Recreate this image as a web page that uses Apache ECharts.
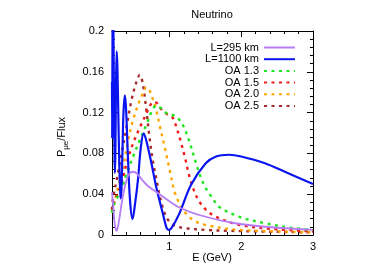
<!DOCTYPE html>
<html><head><meta charset="utf-8">
<script src="https://cdn.jsdelivr.net/npm/echarts@6/dist/echarts.min.js"></script>
<style>html,body{margin:0;padding:0;background:#fff}#c{width:385px;height:269px}</style>
</head><body><div id="c"></div>
<script>
var FONT = 'Liberation Sans, Arial, sans-serif';
var seriesNames = ['L=295 km', 'L=1100 km', 'OA 1.3', 'OA 1.5', 'OA 2.0', 'OA 2.5'];
var seriesColors = ['#b77cf5', '#0a14f0', '#1ee61e', '#ee1c1c', '#ffa500', '#a52a2a'];
var xTicks = [1, 2, 3];
var yTicks = [0, 0.04, 0.08, 0.12, 0.16, 0.2];

var L295 = [[0.2,0.042],[0.215,0.03],[0.235,0.013],[0.25,0.006],[0.265,0.004],[0.28,0.007],[0.30,0.015],[0.33,0.029],[0.36,0.041],[0.40,0.053],[0.44,0.060],[0.494,0.062],[0.55,0.060],[0.62,0.054],[0.70,0.048],[0.862,0.040],[1.0,0.033],[1.138,0.027],[1.414,0.0196],[1.873,0.012],[2.334,0.0081],[3.0,0.005]];
var L1100 = [[0.200,0.150],[0.2025,0.095],[0.206,0.17],[0.210,0.23],[0.214,0.24],[0.219,0.21],[0.228,0.13],[0.236,0.075],[0.241,0.061],[0.247,0.08],[0.255,0.14],[0.265,0.18],[0.275,0.165],[0.29,0.11],[0.305,0.06],[0.318,0.038],[0.324,0.036],[0.332,0.045],[0.345,0.08],[0.36,0.12],[0.379,0.137],[0.395,0.125],[0.42,0.08],[0.45,0.035],[0.486,0.0157],[0.52,0.03],[0.563,0.055],[0.60,0.085],[0.641,0.0997],[0.68,0.092],[0.75,0.07],[0.816,0.047],[0.908,0.021],[0.96,0.007],[0.99,0.005],[1.03,0.007],[1.138,0.021],[1.30,0.049],[1.506,0.0703],[1.65,0.077],[1.83,0.0787],[2.0,0.077],[2.33,0.0703],[2.655,0.0605],[3.0,0.05]];
var OA13 = [[0.2,0.022],[0.22,0.029],[0.33,0.045],[0.403,0.060],[0.494,0.077],[0.586,0.093],[0.678,0.108],[0.76,0.122],[0.816,0.127],[0.87,0.125],[0.95,0.12],[1.0,0.118],[1.07,0.117],[1.138,0.113],[1.2,0.106],[1.276,0.092],[1.368,0.071],[1.44,0.056],[1.506,0.046],[1.6,0.036],[1.69,0.0278],[1.966,0.018],[2.334,0.0115],[2.7,0.007],[3.0,0.005]];
var OA15 = [[0.2,0.023],[0.22,0.03],[0.33,0.05],[0.403,0.070],[0.494,0.09],[0.586,0.105],[0.678,0.119],[0.74,0.128],[0.78,0.1307],[0.83,0.129],[0.9,0.122],[0.954,0.119],[1.045,0.115],[1.10,0.105],[1.16,0.091],[1.22,0.075],[1.276,0.058],[1.34,0.044],[1.414,0.033],[1.52,0.024],[1.644,0.018],[1.97,0.010],[2.42,0.006],[3.0,0.0035]];
var OA20 = [[0.2,0.022],[0.22,0.028],[0.29,0.048],[0.356,0.067],[0.425,0.093],[0.494,0.113],[0.586,0.132],[0.64,0.14],[0.678,0.145],[0.72,0.142],[0.77,0.133],[0.816,0.1225],[0.862,0.108],[0.931,0.087],[1.0,0.065],[1.069,0.043],[1.138,0.031],[1.23,0.021],[1.35,0.014],[1.506,0.0098],[1.97,0.005],[3.0,0.0028]];
var OA25 = [[0.2,0.025],[0.21,0.034],[0.265,0.054],[0.334,0.080],[0.403,0.106],[0.471,0.132],[0.54,0.150],[0.586,0.157],[0.63,0.148],[0.678,0.1225],[0.724,0.095],[0.77,0.072],[0.82,0.054],[0.862,0.039],[0.93,0.022],[1.0,0.013],[1.1,0.0085],[1.23,0.0066],[1.5,0.005],[1.87,0.004],[3.0,0.0025]];
var seriesData = [L295, L1100, OA13, OA15, OA20, OA25];

var chart = echarts.init(document.getElementById('c'), null, {renderer: 'canvas'});
var xMin = 0.2, xMax = 3, yMin = 0, yMax = 0.2;
function xAx(pos, labels, major) {
  return {
    type: 'value', position: pos, min: xMin, max: xMax, interval: 0.2,
    axisLine: {show: !major, onZero: false, lineStyle: {color: '#000', width: 1}},
    axisTick: major ? {show: true, inside: true, length: 6, customValues: xTicks, lineStyle: {color: '#000'}}
                    : {show: true, inside: true, length: 3, lineStyle: {color: '#000'}},
    axisLabel: {show: labels, margin: 6, color: '#000', fontSize: 11, fontFamily: FONT,
      customValues: labels ? xTicks : undefined,
      formatter: function (v) { return Math.abs(v - Math.round(v)) < 1e-6 ? String(Math.round(v)) : ''; }},
    splitLine: {show: false}
  };
}
function yAx(pos, labels) {
  return {
    type: 'value', position: pos, min: yMin, max: yMax, interval: 0.04,
    axisLine: {show: true, onZero: false, lineStyle: {color: '#000', width: 1}},
    axisTick: {show: true, inside: true, length: 6, lineStyle: {color: '#000'}},
    minorTick: {show: true, splitNumber: 5, length: 3, lineStyle: {color: '#000'}},
    axisLabel: {show: labels, margin: 8, color: '#000', fontSize: 11, fontFamily: FONT,
      formatter: function (v) { return String(+v.toFixed(2)); }},
    splitLine: {show: false}, minorSplitLine: {show: false}
  };
}
var series = seriesNames.map(function (n, i) {
  var dashed = i >= 2;
  return {
    name: n, type: 'line', data: seriesData[i], xAxisIndex: 0, yAxisIndex: 0,
    smooth: 0.35, symbol: 'none', showSymbol: false, clip: true, z: 10 - i,
    lineStyle: {color: seriesColors[i], width: dashed ? 2.4 : (i === 1 ? 2.2 : 1.8), type: dashed ? [3, 4.5] : 'solid'},
    itemStyle: {color: seriesColors[i]}
  };
});
chart.setOption({
  animation: false,
  backgroundColor: '#fff',
  grid: {left: 112, right: 72, top: 31, bottom: 34, containLabel: false},
  xAxis: [xAx('bottom', true, false), xAx('bottom', false, true), xAx('top', false, false), xAx('top', false, true)],
  yAxis: [yAx('left', true), yAx('right', false)],
  legend: {
    orient: 'vertical', right: 84, top: 37, align: 'right',
    itemWidth: 31, itemHeight: 10, itemGap: 0.7,
    itemStyle: {opacity: 0, borderWidth: 0},
    textStyle: {fontSize: 11, fontFamily: FONT, color: '#000', lineHeight: 10},
    data: seriesNames
  },
  graphic: [
    {type: 'text', x: 212, y: 15, style: {text: 'Neutrino', font: '11px ' + FONT, fill: '#000', align: 'center', verticalAlign: 'middle'}},
    {type: 'text', x: 212, y: 258, style: {text: 'E (GeV)', font: '11px ' + FONT, fill: '#000', align: 'center', verticalAlign: 'middle'}},
    {type: 'text', x: 62, y: 137, rotation: Math.PI / 2,
      style: {text: '{a|P}{b|μe}{a|/Flux}', align: 'center', verticalAlign: 'middle', fill: '#000',
        rich: {a: {fontSize: 11, fontFamily: FONT, lineHeight: 16, verticalAlign: 'middle', fill: '#000'},
               b: {fontSize: 8, fontFamily: FONT, lineHeight: 16, verticalAlign: 'bottom', fill: '#000'}}}}
  ],
  series: series
});
</script></body></html>
